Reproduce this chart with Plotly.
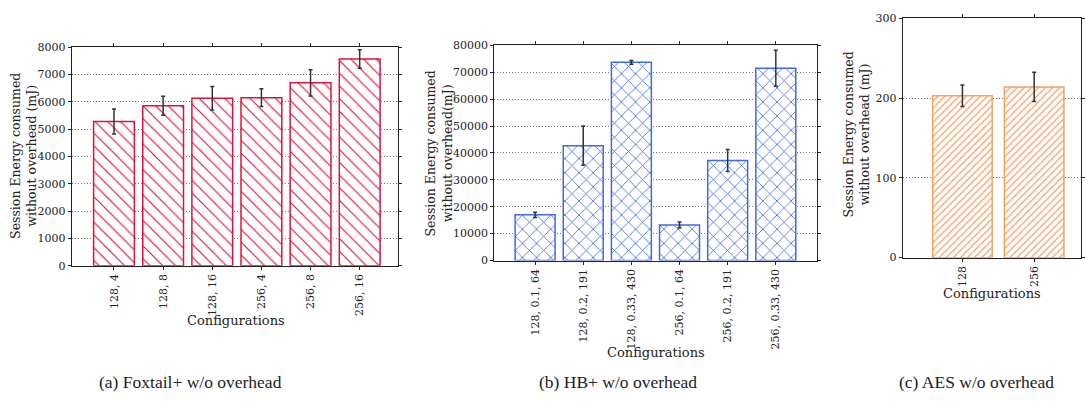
import plotly.graph_objects as go

# Panel (a) Foxtail+
fox_cats = ["128, 4", "128, 8", "128, 16", "256, 4", "256, 8", "256, 16"]
fox_vals = [5280, 5860, 6135, 6155, 6700, 7575]
fox_err = [460, 345, 430, 325, 480, 340]

# Panel (b) HB+
hb_cats = ["128, 0.1, 64", "128, 0.2, 191", "128, 0.33, 430",
           "256, 0.1, 64", "256, 0.2, 191", "256, 0.33, 430"]
hb_vals = [17000, 42700, 73700, 13200, 37200, 71500]
hb_err = [1000, 7300, 700, 1100, 4100, 6650]

# Panel (c) AES
aes_cats = ["128", "256"]
aes_vals = [203, 214]
aes_err = [13.5, 18.4]

W, H = 1085, 404
SERIF = '"DejaVu Serif", serif'
CAPTION = '"Liberation Serif", serif'

def px_x(a, b):
    return [a / W, b / W]

def px_y(top, bottom):
    return [1 - bottom / H, 1 - top / H]

fig = go.Figure()

def add_bar(cats, vals, errs, color, shape, size, sol, xa, ya):
    fig.add_trace(go.Bar(
        x=list(range(len(cats))), y=vals, width=0.83,
        marker=dict(color="white", line=dict(color=color, width=1.5),
                    pattern=dict(shape=shape, fgcolor=color, bgcolor="white",
                                 size=size, solidity=sol, fgopacity=1,
                                 fillmode="replace")),
        error_y=dict(type="data", array=errs, color="#333333", thickness=1.5, width=2),
        xaxis=xa, yaxis=ya, showlegend=False,
    ))

add_bar(fox_cats, fox_vals, fox_err, "#DC143C", "\\", 9, 0.13, "x", "y")
add_bar(hb_cats, hb_vals, hb_err, "#4169E1", "x", 10, 0.16, "x2", "y2")
add_bar(aes_cats, aes_vals, aes_err, "#F5A060", "/", 5, 0.25, "x3", "y3")

tickfont = dict(family=SERIF, size=11, color="#222")

def xaxis(domain, rng, cats, anchor):
    return dict(domain=domain, range=rng, anchor=anchor,
                tickmode="array", tickvals=list(range(len(cats))), ticktext=cats,
                tickangle=-90, tickfont=tickfont, ticks="outside", ticklen=3,
                tickcolor="#222", showline=True, linecolor="#222", linewidth=1,
                mirror="ticks", showgrid=False, zeroline=False)

def yaxis(domain, rng, dtick, anchor):
    return dict(domain=domain, range=rng, anchor=anchor, dtick=dtick,
                tickformat="d",
                tickfont=tickfont, ticks="outside", ticklen=3, tickcolor="#222",
                showline=True, linecolor="#222", linewidth=1, mirror="ticks",
                showgrid=True, gridcolor="#777", griddash="1px,2px", gridwidth=1,
                zeroline=False)

fig.update_layout(
    width=W, height=H, margin=dict(l=0, r=0, t=0, b=0),
    paper_bgcolor="white", plot_bgcolor="white",
    xaxis=xaxis(px_x(72, 399), [-0.86, 5.77], fox_cats, "y"),
    yaxis=yaxis(px_y(42.7, 268.3), [0, 8000], 1000, "x"),
    xaxis2=xaxis(px_x(496, 820), [-0.85, 5.855], hb_cats, "y2"),
    yaxis2=yaxis(px_y(40.7, 263), [0, 80000], 10000, "x2"),
    xaxis3=xaxis(px_x(906, 1085), [-0.833, 1.653], aes_cats, "y3"),
    yaxis3=yaxis(px_y(12.7, 260), [0, 300], 100, "x3"),
)

def ann(text, x, y, size, angle=0, family=SERIF):
    fig.add_annotation(text=text, x=x / W, y=1 - y / H, xref="paper", yref="paper",
                       showarrow=False, textangle=angle, xanchor="center", yanchor="middle",
                       font=dict(family=family, size=size, color="#222"))

ann("Configurations", 237, 325, 13)
ann("Configurations", 658, 358, 13)
ann("Configurations", 996, 297, 13)

ann("Session Energy consumed<br>without overhead (mJ)", 23, 155, 12.5, -90)
ann("Session Energy consumed<br>without overhead(mJ)", 440, 152, 12.5, -90)
ann("Session Energy consumed<br>without overhead (mJ)", 860, 133, 12.5, -90)

ann("(a) Foxtail+ w/o overhead", 191, 388, 17.5, family=CAPTION)
ann("(b) HB+ w/o overhead", 620, 388, 17.5, family=CAPTION)
ann("(c) AES w/o overhead", 980, 388, 17.5, family=CAPTION)

fig.write_html("out.html")
